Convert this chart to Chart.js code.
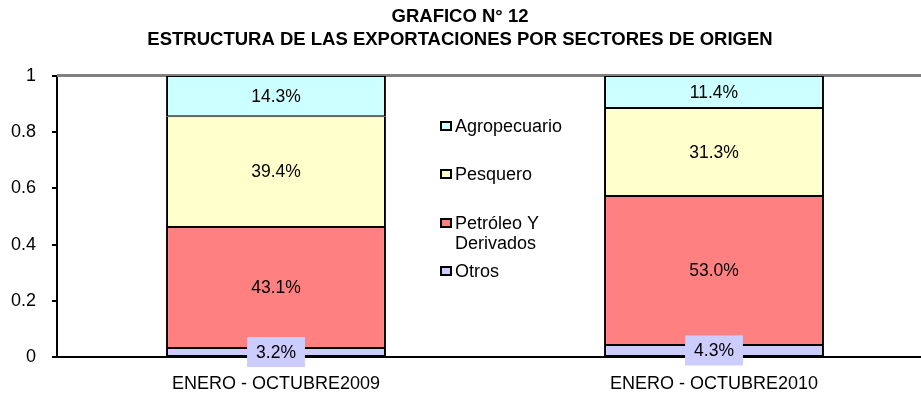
<!DOCTYPE html>
<html>
<head>
<meta charset="utf-8">
<script src="https://cdn.jsdelivr.net/npm/chart.js@4.4.0/dist/chart.umd.min.js"></script>
<style>
  html, body { margin: 0; padding: 0; background: #fff; overflow: hidden; }
  #wrap { width: 940px; height: 403px; }
</style>
</head>
<body>
<div id="wrap"><canvas id="grafico" width="940" height="403"></canvas></div>
<script>
const periodos = ['ENERO - OCTUBRE2009', 'ENERO - OCTUBRE2010'];
const otros = [0.032, 0.043];
const petroleo = [0.431, 0.530];
const pesquero = [0.394, 0.313];
const agropecuario = [0.143, 0.114];
const ticksY = [0, 0.2, 0.4, 0.6, 0.8, 1];
const titulo = ['GRAFICO N° 12', 'ESTRUCTURA DE LAS EXPORTACIONES POR SECTORES DE ORIGEN'];

const FONT = "'Liberation Sans', Arial, sans-serif";

// etiquetas de porcentaje con fondo del color del segmento
const etiquetas = {
  id: 'etiquetas',
  afterDatasetsDraw(chart) {
    const ctx = chart.ctx;
    ctx.save();
    ctx.font = '17.5px ' + FONT;
    ctx.textAlign = 'center';
    ctx.textBaseline = 'middle';
    chart.data.datasets.forEach((ds, i) => {
      chart.getDatasetMeta(i).data.forEach((bar, j) => {
        const txt = (ds.data[j] * 100).toFixed(1) + '%';
        const y = (bar.y + bar.base) / 2;
        const w = ctx.measureText(txt).width;
        ctx.fillStyle = ds.backgroundColor;
        ctx.fillRect(bar.x - w / 2 - 9, y - 15, w + 18, 30);
        ctx.fillStyle = '#000';
        ctx.fillText(txt, bar.x, y + 1);
      });
    });
    ctx.restore();
  }
};

// borde superior gris, titulo y leyenda dentro del area
const decor = {
  id: 'decor',
  beforeDatasetsDraw(chart) {
    const { ctx, chartArea } = chart;
    ctx.save();
    ctx.strokeStyle = '#808080';
    ctx.lineWidth = 3;
    ctx.beginPath();
    ctx.moveTo(chartArea.left, chartArea.top - 0.5);
    ctx.lineTo(chartArea.right, chartArea.top - 0.5);
    ctx.stroke();
    ctx.restore();
  },
  afterDraw(chart) {
    const ctx = chart.ctx;
    ctx.save();
    ctx.fillStyle = '#000';
    ctx.textAlign = 'center';
    ctx.textBaseline = 'middle';
    ctx.font = 'bold 18.5px ' + FONT;
    ctx.fillText(titulo[0], 460, 17);
    ctx.fillText(titulo[1], 460, 40);

    ctx.textAlign = 'left';
    ctx.font = '18px ' + FONT;
    const items = [
      { ds: 3, y: 126 },
      { ds: 2, y: 174 },
      { ds: 1, y: 223 },
      { ds: 0, y: 271 }
    ];
    items.forEach(it => {
      const ds = chart.data.datasets[it.ds];
      ctx.fillStyle = ds.backgroundColor;
      ctx.fillRect(441, it.y - 4, 10, 8);
      ctx.strokeStyle = '#000';
      ctx.lineWidth = 2;
      ctx.strokeRect(441, it.y - 4, 10, 8);
      ctx.fillStyle = '#000';
      const lines = Array.isArray(ds.label) ? ds.label : [ds.label];
      lines.forEach((l, k) => ctx.fillText(l, 455, it.y + 1 + k * 20));
    });
    ctx.restore();
  }
};

const barra = {
  borderColor: '#000',
  borderWidth: { top: 1, bottom: 1, left: 2, right: 2 },
  borderSkipped: false,
  barPercentage: 1,
  categoryPercentage: 0.502
};

new Chart(document.getElementById('grafico'), {
  type: 'bar',
  data: {
    labels: periodos,
    datasets: [
      { label: 'Otros', data: otros, backgroundColor: '#CCCCFF', ...barra },
      { label: ['Petróleo Y', 'Derivados'], data: petroleo, backgroundColor: '#FF8080', ...barra },
      { label: 'Pesquero', data: pesquero, backgroundColor: '#FFFFCC', ...barra },
      { label: 'Agropecuario', data: agropecuario, backgroundColor: '#CCFFFF', ...barra }
    ]
  },
  options: {
    responsive: false,
    animation: false,
    layout: { padding: { top: 76, right: 7, left: 0, bottom: 0 } },
    plugins: { legend: { display: false }, title: { display: false }, tooltip: { enabled: false } },
    scales: {
      x: {
        stacked: true,
        grid: { display: false, drawTicks: false },
        border: { color: '#000', width: 2 },
        ticks: { color: '#000', font: { family: FONT, size: 18 }, padding: 16 },
        afterFit(s) { s.height = 46; }
      },
      y: {
        stacked: true,
        min: 0,
        max: 1,
        grid: { drawOnChartArea: false, drawTicks: true, tickLength: 5, color: '#000', lineWidth: 2 },
        border: { color: '#000', width: 2 },
        ticks: { color: '#000', font: { family: FONT, size: 18 }, padding: 16, callback: v => String(+v.toFixed(1)) },
        afterBuildTicks(s) { s.ticks = ticksY.map(v => ({ value: v })); },
        afterFit(s) { s.width = 57; }
      }
    }
  },
  plugins: [etiquetas, decor]
});
</script>
</body>
</html>
